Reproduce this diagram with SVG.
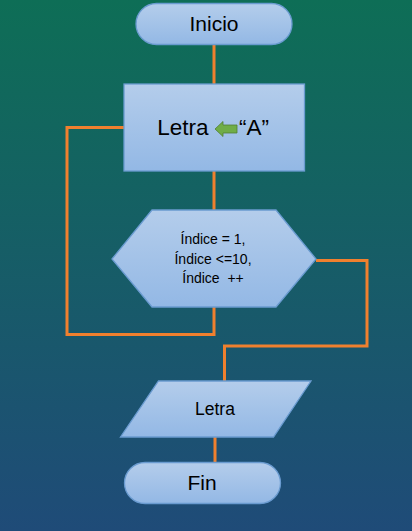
<svg xmlns="http://www.w3.org/2000/svg" width="412" height="531" viewBox="0 0 412 531">
<defs>
<linearGradient id="bg" x1="0" y1="0" x2="0" y2="1">
<stop offset="0" stop-color="#0e6e56"/>
<stop offset="1" stop-color="#1f4b78"/>
</linearGradient>
<linearGradient id="fill" x1="0" y1="0" x2="0" y2="1">
<stop offset="0" stop-color="#b4cdeb"/>
<stop offset="1" stop-color="#93b8e5"/>
</linearGradient>
<style>
.shape{fill:url(#fill);stroke:#6a9bd0;stroke-width:1.3}
.conn{fill:none;stroke:#f0802e;stroke-width:3;stroke-linejoin:miter}
.t{font-family:"Liberation Sans",Arial,sans-serif;fill:#000;text-anchor:middle}
</style>
</defs>
<rect width="412" height="531" fill="url(#bg)"/>
<g id="connectors">
<line class="conn" x1="214" y1="44" x2="214" y2="84"/>
<line class="conn" x1="214" y1="171" x2="214" y2="210"/>
<polyline class="conn" points="214,307 214,334.5 67,334.5 67,127.5 124,127.5"/>
<polyline class="conn" points="316,260.5 367,260.5 367,346 224.5,346 224.5,381"/>
<line class="conn" x1="215" y1="437" x2="215" y2="463"/>
</g>
<g id="inicio">
<rect class="shape" x="136" y="3.5" width="156" height="41" rx="20.5"/>
<text class="t" x="214" y="31" font-size="21">Inicio</text>
</g>
<g id="asignacion">
<rect class="shape" x="124" y="84" width="180.5" height="87"/>
<text class="t" x="183" y="135" font-size="22.5" text-anchor="middle">Letra</text>
<path d="M215,129 L223,121.5 L223,125 L237,125 L237,133 L223,133 L223,136.5 Z" fill="#70ad47" stroke="#507e32" stroke-width="0.8"/>
<text class="t" x="254" y="135" font-size="22.5">“A”</text>
</g>
<g id="bucle">
<polygon class="shape" points="112,259 152,210 276,210 316,259 276,307 152,307"/>
<text class="t" x="213" y="244" font-size="14">Índice = 1,</text>
<text class="t" x="213" y="264" font-size="14">Índice &lt;=10,</text>
<text class="t" x="213" y="283" font-size="14" xml:space="preserve">Índice  ++</text>
</g>
<g id="salida">
<polygon class="shape" points="158.5,381 311,381 273.5,437 120.5,437"/>
<text class="t" x="215" y="415" font-size="17.5">Letra</text>
</g>
<g id="fin">
<rect class="shape" x="124.5" y="462.5" width="156" height="41" rx="20.5"/>
<text class="t" x="202" y="489.5" font-size="21">Fin</text>
</g>
</svg>
